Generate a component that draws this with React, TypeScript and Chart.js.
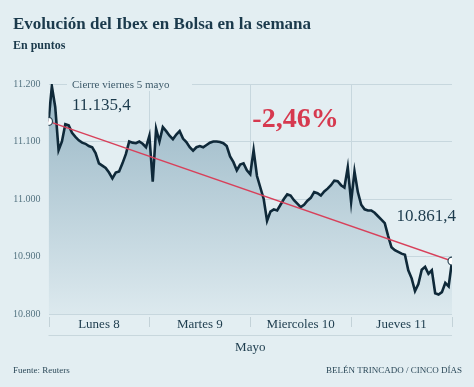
import React, { useEffect, useRef } from 'react';
import { Chart, registerables } from 'chart.js';

Chart.register(...registerables);

// ---- Data ----
const dias = ['Lunes 8', 'Martes 9', 'Miercoles 10', 'Jueves 11'];
const yTicks = [10800, 10900, 11000, 11100, 11200];

const lunes = [
  11135, 11196, 11160, 11085, 11100, 11130, 11128, 11115, 11108, 11102,
  11098, 11096, 11092, 11090, 11080, 11062, 11058, 11054, 11046, 11036,
  11046, 11048, 11062, 11078, 11100, 11098, 11097, 11100, 11096, 11090,
];
const martes = [
  11110, 11030, 11122, 11100, 11125, 11118, 11110, 11104, 11112, 11118,
  11105, 11099, 11090, 11084, 11090, 11092, 11090, 11094, 11098, 11100,
  11100, 11099, 11097, 11092, 11074, 11064, 11050, 11060, 11062, 11050,
];
const miercoles = [
  11043, 11085, 11040, 11020, 11000, 10962, 10978, 10982, 10980, 10990,
  11000, 11008, 11006, 10998, 10992, 10986, 10990, 10997, 11002, 11012,
  11010, 11006, 11013, 11018, 11024, 11032, 11031, 11024, 11020, 11055,
];
const jueves = [
  10995, 11048, 11012, 10990, 10982, 10980, 10980, 10976, 10970, 10964,
  10958, 10936, 10916, 10911, 10908, 10905, 10903, 10876, 10862, 10840,
  10852, 10877, 10882, 10870, 10876, 10836, 10834, 10838, 10854, 10848,
];
const cierreFinal = 10892;

const textoCierre = 'Cierre viernes 5 mayo';
const valorInicio = '11.135,4';
const valorFin = '10.861,4';
const variacion = '-2,46%';

// ---- Styles ----
const BG = '#e3eef2';
const FONT = '"Liberation Serif", "Times New Roman", serif';
const NAVY = '#1b3a4c';
const GRID = '#c7d7de';

const fmt = (v: number) => String(v).replace(/\B(?=(\d{3})+(?!\d))/g, '.');

export default function App() {
  const ref = useRef<HTMLCanvasElement>(null);

  useEffect(() => {
    document.body.style.margin = '0';
    document.body.style.background = BG;
    const canvas = ref.current;
    if (!canvas) return;

    const sesiones = [lunes, martes, miercoles, jueves];
    const puntos: { x: number; y: number }[] = [];
    sesiones.forEach((arr, d) =>
      arr.forEach((v, j) => puntos.push({ x: d + j / arr.length, y: v }))
    );
    puntos.push({ x: sesiones.length, y: cierreFinal });
    const tendencia = [puntos[0], puntos[puntos.length - 1]];

    const bgPlugin = {
      id: 'bg',
      beforeDraw(chart: any) {
        const c = chart.ctx;
        c.save();
        c.fillStyle = BG;
        c.fillRect(0, 0, chart.width, chart.height);
        c.restore();
      },
    };

    const annot = {
      id: 'annot',
      afterDraw(chart: any) {
        const c = chart.ctx;
        const { left, right, top, bottom } = chart.chartArea;
        const xs = chart.scales.x;
        c.save();
        // separators below axis
        c.strokeStyle = '#c3d2d8';
        c.lineWidth = 1;
        for (let d = 0; d <= dias.length; d++) {
          const px = Math.round(xs.getPixelForValue(d)) + 0.5;
          c.beginPath();
          c.moveTo(px, bottom + 3);
          c.lineTo(px, bottom + 13);
          c.stroke();
        }
        c.strokeStyle = '#c8d7dd';
        c.beginPath();
        c.moveTo(left, bottom + 21.5);
        c.lineTo(right, bottom + 21.5);
        c.stroke();

        // "Cierre viernes" label with background
        c.font = `11px ${FONT}`;
        c.textBaseline = 'alphabetic';
        c.textAlign = 'left';
        c.fillStyle = BG;
        c.fillRect(left + 18.5, top - 7, 125, 14);
        c.fillStyle = '#3d5a6a';
        c.fillText(textoCierre, left + 23.5, top + 4);

        c.font = `17px ${FONT}`;
        c.fillStyle = NAVY;
        c.fillText(valorInicio, left + 23.5, top + 26);

        c.textAlign = 'right';
        c.fillText(valorFin, right + 4, top + 136.5);

        c.textAlign = 'center';
        c.font = `bold 28px ${FONT}`;
        c.fillStyle = '#d6394f';
        c.fillText(variacion, left + 247, top + 43);

        // footer
        c.font = `9px ${FONT}`;
        c.fillStyle = '#2d4a5a';
        c.textAlign = 'left';
        c.fillText('Fuente: Reuters', 13, chart.height - 14);
        c.textAlign = 'right';
        c.fillText('BELÉN TRINCADO / CINCO DÍAS', chart.width - 12, chart.height - 14);
        c.restore();
      },
    };

    const chart = new Chart(canvas, {
      type: 'line',
      data: {
        datasets: [
          {
            data: tendencia,
            borderColor: '#d8405a',
            borderWidth: 1.5,
            pointRadius: 4,
            pointBackgroundColor: '#ffffff',
            pointBorderColor: '#2c4656',
            pointBorderWidth: 1.2,
            fill: false,
          },
          {
            data: puntos,
            borderColor: '#0f2939',
            borderWidth: 2.6,
            borderJoinStyle: 'miter',
            pointRadius: 0,
            tension: 0,
            fill: 'start',
            backgroundColor: (ctx: any) => {
              const { chart } = ctx;
              const area = chart.chartArea;
              if (!area) return 'rgba(160,190,205,0.6)';
              const g = chart.ctx.createLinearGradient(0, area.top, 0, area.bottom);
              g.addColorStop(0, '#98b6c5');
              g.addColorStop(1, '#dce9ee');
              return g;
            },
          },
        ],
      },
      options: {
        animation: false,
        responsive: false,
        maintainAspectRatio: false,
        layout: { padding: { left: 13, right: 22, top: 0, bottom: 30 } },
        plugins: {
          legend: { display: false },
          tooltip: { enabled: false },
          title: {
            display: true,
            text: 'Evolución del Ibex en Bolsa en la semana',
            align: 'start',
            color: NAVY,
            font: { family: FONT, size: 17, weight: 'bold', lineHeight: 1.2 },
            padding: { top: 14, bottom: 2 },
          },
          subtitle: {
            display: true,
            text: 'En puntos',
            align: 'start',
            color: NAVY,
            font: { family: FONT, size: 12, weight: 'bold', lineHeight: 1.2 },
            padding: { top: 2.4, bottom: 30.8 },
          },
        },
        scales: {
          x: {
            type: 'linear',
            min: 0,
            max: 4,
            afterBuildTicks: (s: any) => {
              s.ticks = [0, 0.5, 1, 1.5, 2, 2.5, 3, 3.5, 4].map((v) => ({ value: v }));
            },
            afterFit: (s: any) => {
              s.height = 43;
            },
            ticks: {
              autoSkip: false,
              maxRotation: 0,
              padding: 3,
              color: '#203f50',
              font: { family: FONT, size: 13, lineHeight: 1.2 },
              callback: (v: any) => (Number.isInteger(v) ? '' : dias[Math.floor(v)]),
            },
            grid: {
              drawTicks: false,
              color: (ctx: any) => {
                const v = ctx.tick ? ctx.tick.value : 0;
                return Number.isInteger(v) && v > 0 && v < 4 ? GRID : 'transparent';
              },
            },
            border: { display: false },
            title: {
              display: true,
              text: 'Mayo',
              color: '#203f50',
              font: { family: FONT, size: 13, lineHeight: 1.2 },
              padding: { top: 0, bottom: 1.6 },
            },
          },
          y: {
            min: 10800,
            max: 11200,
            afterBuildTicks: (s: any) => {
              s.ticks = yTicks.map((v) => ({ value: v }));
            },
            afterFit: (s: any) => {
              s.width = 35.5;
            },
            ticks: {
              padding: 8,
              color: '#557482',
              font: { family: FONT, size: 10 },
              callback: (v: any) => fmt(v),
            },
            grid: { drawTicks: false, color: GRID },
            border: { display: false },
          },
        },
      },
      plugins: [bgPlugin, annot],
    } as any);

    return () => chart.destroy();
  }, []);

  return (
    <div style={{ width: 474, height: 387 }}>
      <canvas ref={ref} width={474} height={387} style={{ display: 'block' }} />
    </div>
  );
}
